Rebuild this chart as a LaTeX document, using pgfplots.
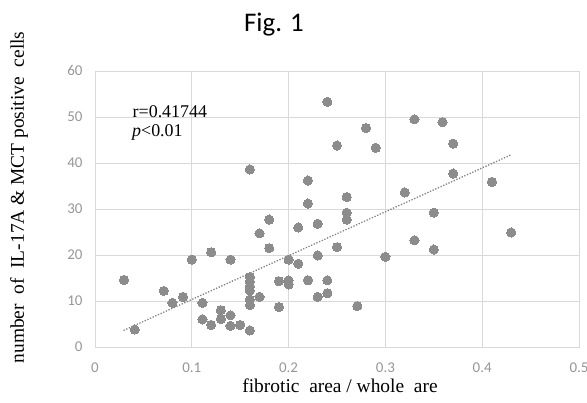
\documentclass[border=0pt]{standalone}
\usepackage{pgfplots}
\pgfplotsset{compat=1.18}
\usepackage{fontspec}
\setmainfont{Liberation Serif}
\newfontfamily\calibri{Carlito}
\definecolor{dotc}{RGB}{140,140,140}
\definecolor{gridc}{RGB}{217,217,217}
\definecolor{tickc}{RGB}{150,150,150}
\definecolor{trendc}{RGB}{130,130,130}
\begin{document}
\begin{tikzpicture}[x=1bp,y=1bp]
\path[use as bounding box] (-95,-55) rectangle (492,347);
\begin{axis}[
  at={(0,0)}, anchor=south west,
  scale only axis, width=484bp, height=276bp,
  xmin=0, xmax=0.5, ymin=0, ymax=60,
  xtick distance=0.1, ytick distance=10,
  grid=major, major grid style={gridc, line width=0.8bp},
  axis line style={gridc, line width=0.8bp},
  major tick length=0pt,
  tick label style={font=\calibri\fontsize{15}{15}\selectfont, text=tickc},
  /pgf/number format/assume math mode=true,
  xticklabel style={yshift=-12bp},
  yticklabel style={xshift=-9bp},
  clip=false,
]
\addplot[only marks, dotc, mark=*, mark size=4.6bp, mark options={draw=dotc, fill=dotc, line width=0pt}] coordinates {
(0.030,14.6) (0.041,3.8) (0.071,12.2) (0.080,9.6) (0.091,10.9) (0.100,19.0)
(0.111,9.6) (0.111,6.0) (0.120,20.6) (0.120,4.8) (0.130,8.0) (0.130,6.1)
(0.140,19.0) (0.140,6.9) (0.140,4.6) (0.150,4.8) (0.160,38.6)
(0.160,15.2) (0.160,14.2) (0.160,13.2) (0.160,12.3) (0.160,10.3) (0.160,9.1) (0.160,3.6)
(0.170,10.9) (0.170,24.7) (0.180,27.7) (0.180,21.5) (0.190,14.3) (0.190,8.7)
(0.200,19.0) (0.200,14.5) (0.200,13.6) (0.210,26.0) (0.210,18.1)
(0.220,36.2) (0.220,31.2) (0.220,14.5) (0.230,26.8) (0.230,19.9) (0.230,10.9)
(0.240,53.3) (0.240,14.5) (0.240,11.7) (0.250,43.8) (0.250,21.7)
(0.260,32.6) (0.260,29.2) (0.260,27.7) (0.271,8.9) (0.280,47.6) (0.290,43.3)
(0.300,19.6) (0.320,33.6) (0.330,49.5) (0.330,23.2) (0.350,29.2) (0.350,21.2)
(0.359,48.9) (0.370,44.2) (0.370,37.7) (0.410,35.9) (0.430,24.9)
};
\addplot[trendc, line width=1.3bp, dash pattern=on 1.3bp off 1.6bp] coordinates {(0.0295,3.6) (0.430,41.8)};
\end{axis}
\node[font=\calibri\fontsize{27}{27}\selectfont, anchor=base] at (179,316) {Fig. 1};
\node[font=\fontsize{18}{18}\selectfont, anchor=base west, inner sep=0pt] at (37.5,230) {r=0.41744};
\node[font=\fontsize{18}{18}\selectfont, anchor=base west, inner sep=0pt] at (37,211) {\textit{p}<0.01};
\node[font=\fontsize{19.5}{19.5}\selectfont, anchor=base] at (245,-45) {fibrotic\ \ area / whole\ \ are};
\node[font=\fontsize{19.5}{19.5}\selectfont, anchor=base, rotate=90] at (-71,149.5) {number\ \ of\ \ IL-17A \& MCT positive\ \ cells};
\end{tikzpicture}
\end{document}
